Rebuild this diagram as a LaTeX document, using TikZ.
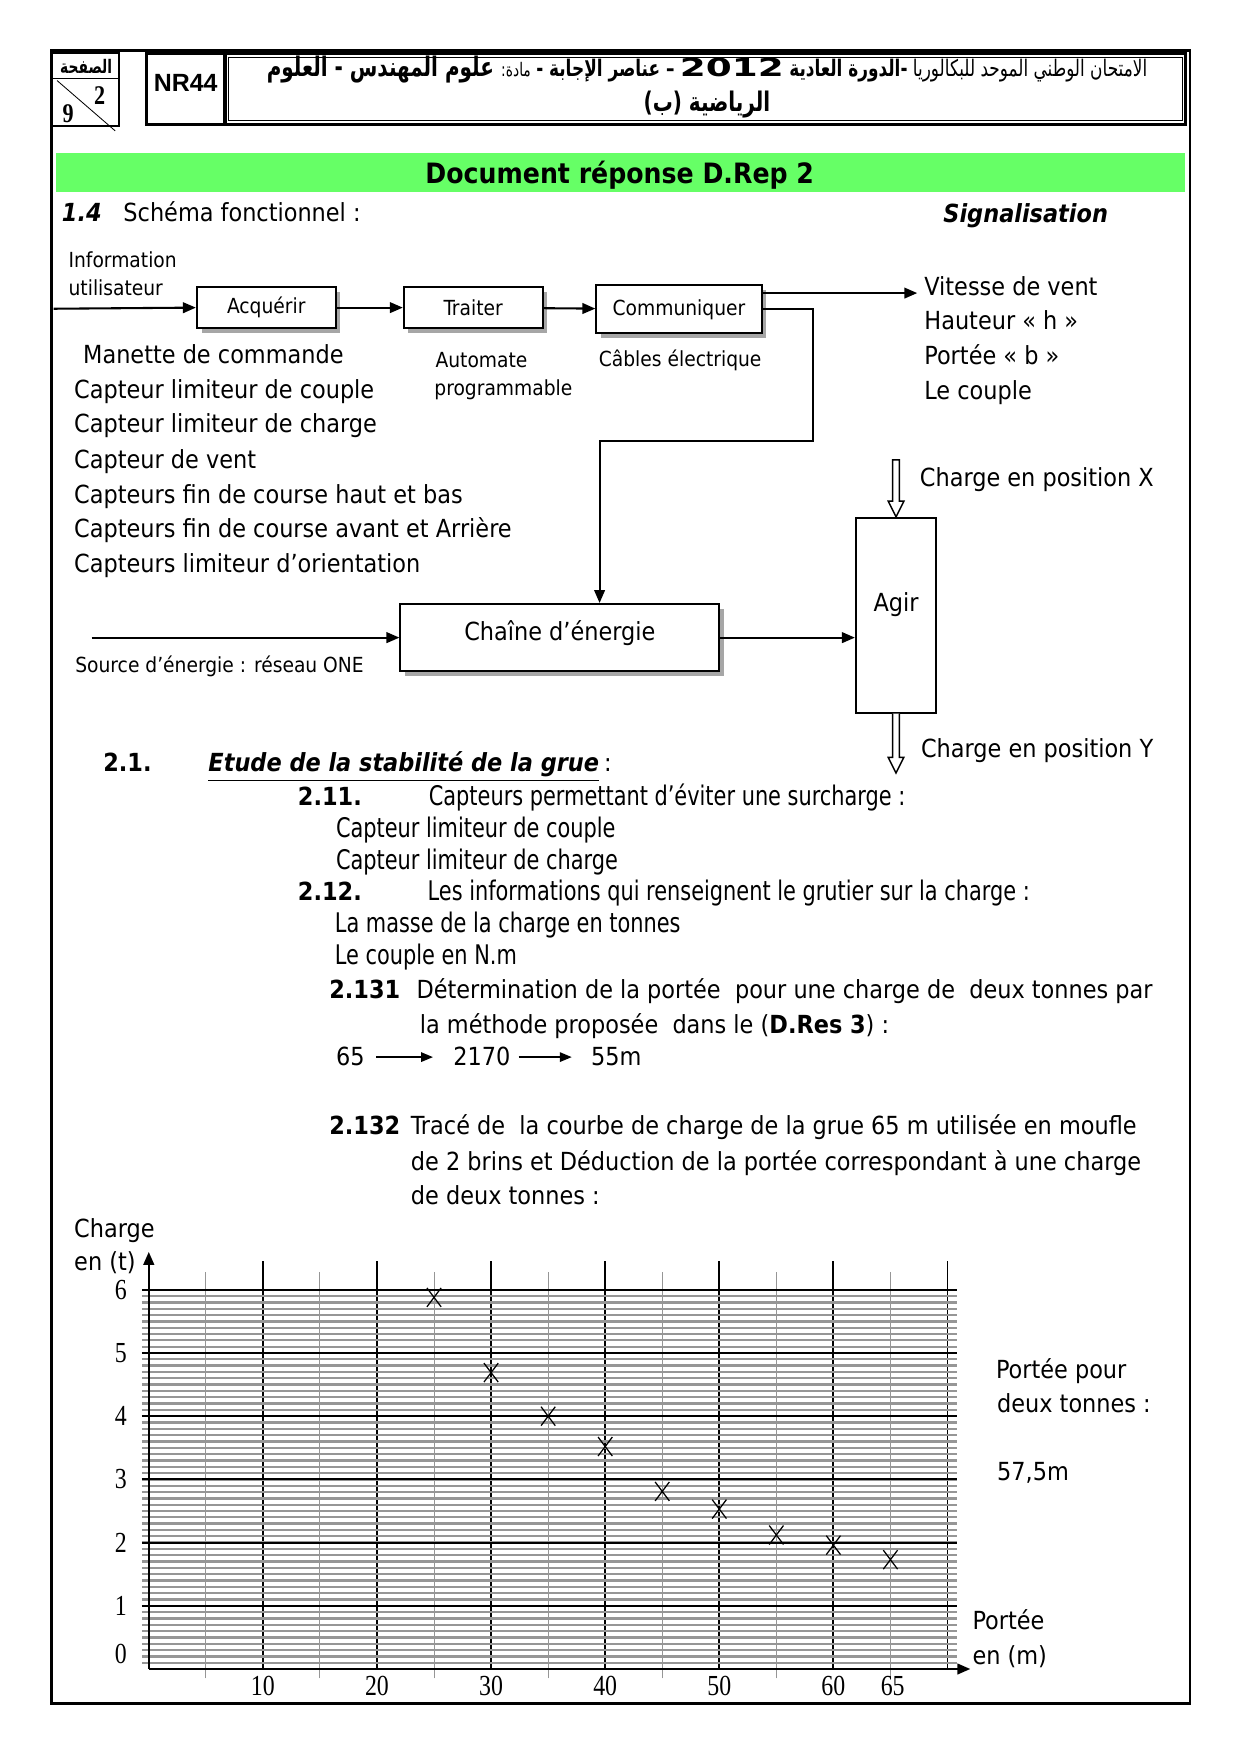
\documentclass[tikz,border=0pt]{standalone}
\usepackage{fontspec}
\setmainfont{DejaVu Sans Condensed}
\newfontfamily\etroite[FakeStretch=0.86]{DejaVu Sans Condensed}
\newfontfamily\arabe[Script=Arabic, FakeStretch=0.74]{DejaVu Sans}
\newfontfamily\chiffres[FakeStretch=0.82]{Liberation Serif}
\newfontfamily\arial{Liberation Sans}
\newfontfamily\annee[FakeStretch=1.5]{DejaVu Sans}
\TeXXeTstate=1
\definecolor{vertdoc}{RGB}{102,255,102}
\definecolor{grisgrille}{RGB}{150,150,150}
\usetikzlibrary{
    shapes.misc,
    arrows.meta,
    positioning,
    calc,
    shadows
}

\begin{document}
\begin{tikzpicture}[x=0.18935mm, y=-0.18935mm,
    cadre/.style={draw, line width=1.2pt},
    blocfct/.style={draw, line width=0.9pt, fill=white, inner sep=0pt,
        drop shadow={shadow xshift=0.8mm, shadow yshift=-0.8mm, fill=black!35, opacity=1}},
    fleche/.style={line width=1pt, -{Triangle[length=2.2mm, width=1.8mm]}},
    txt/.style={anchor=west, inner sep=0pt, text height=3.6mm, text depth=0.6mm, font=\fontsize{12}{14}\selectfont},
    petit/.style={txt, font=\fontsize{10}{12}\selectfont},
    etr/.style={txt, font=\etroite\fontsize{13}{15}\selectfont},
    gras/.style={txt, font=\bfseries\fontsize{12}{14}\selectfont},
    graduation/.style={inner sep=0pt, font=\chiffres\fontsize{14}{14}\selectfont},
    creuse/.style={draw, line width=0.7pt, fill=white}]

    \useasboundingbox (0,0) rectangle (1109,1568);

    % Cadre et en-tete
    \draw[cadre] (46,45) rectangle (1064,1523);
    \draw[line width=1pt] (46,47) rectangle (106,113);
    \draw (46,70) -- (106,70);
    \draw (51,72) -- (103,117);
    \node[font=\arabe\bfseries\fontsize{9}{10}\selectfont] (pgtxt) at (77,59) {\beginR الصفحة\endR};
    \node[font=\chiffres\bfseries\fontsize{13}{13}\selectfont] (pgnum) at (89,85) {2};
    \node[font=\chiffres\bfseries\fontsize{13}{13}\selectfont] (pgtot) at (61,102) {9};
    \draw[line width=1.6pt] (131,48) rectangle (201,111);
    \node[font=\arial\bfseries\fontsize{12}{14}\selectfont] (nr) at (166,74) {NR44};
    \draw[line width=1.6pt] (201,48) rectangle (1060,111);
    \draw[line width=0.5pt] (204,51) rectangle (1057,108);
    \node[font=\arabe\fontsize{11}{17}\selectfont, align=center] (entete) at (632,78)
        {\beginR الامتحان الوطني الموحد للبكالوريا {\bfseries -الدورة العادية} \beginL{\annee\bfseries\fontsize{12}{14}\selectfont 2012}\endL{} {\bfseries – عناصر الإجابة -} {\fontsize{9}{10}\selectfont مادة:} {\bfseries\fontsize{13}{15}\selectfont علوم المهندس - العلوم}\endR\\
         {\bfseries\fontsize{13}{15}\selectfont\beginR الرياضية (ب)\endR}};

    % Bandeau
    \fill[vertdoc] (50,137) rectangle (1059,172);
    \node[font=\bfseries\fontsize{13.5}{16}\selectfont] (titredoc) at (554,157) {Document réponse D.Rep 2};

    % Schema fonctionnel
    \node[txt, font=\bfseries\itshape\fontsize{12}{14}\selectfont] (s14) at (55,190) {1.4};
    \node[txt] (schema) at (110,190) {Schéma fonctionnel :};
    \node[txt, font=\bfseries\itshape\fontsize{12}{14}\selectfont] (signal) at (843,191) {Signalisation};

    \node[petit] (info) at (61,231) {Information};
    \node[petit] (utilis) at (61,256) {utilisateur};

    \node[blocfct, minimum width=23.5mm, minimum height=7mm, font=\fontsize{10}{12}\selectfont] (acq) at (238,275) {Acquérir};
    \node[blocfct, minimum width=23.5mm, minimum height=7mm, font=\fontsize{10}{12}\selectfont] (trait) at (423,275) {Traiter};
    \node[blocfct, minimum width=28mm, minimum height=8.1mm, font=\fontsize{10}{12}\selectfont] (comm) at (607,276.5) {Communiquer};
    \node[blocfct, minimum width=54mm, minimum height=11.4mm, text depth=2.4mm, font=\fontsize{12}{14}\selectfont] (chaine) at (500.5,570) {Chaîne d’énergie};
    \node[draw, line width=0.9pt, minimum width=13.6mm, minimum height=33mm, text depth=4.5mm, font=\fontsize{12}{14}\selectfont] (agir) at (801,550) {Agir};

    \coordinate (infoin) at (48,276);
    \coordinate (vitesse) at (820,262);
    \coordinate (retour) at (727,394);
    \coordinate (desc) at (536,394);
    \coordinate (srcin) at (82,570);

    \draw[fleche] (infoin) -- (acq.west);
    \draw[fleche] (acq) -- (trait);
    \draw[fleche] (trait) -- (comm);
    \draw[fleche] (comm.east |- vitesse) -- (vitesse);
    \draw[fleche] (comm.east) -| (retour) -- (desc) -- (desc |- chaine.north);
    \draw[fleche] (srcin) -- (chaine.west);
    \draw[fleche] (chaine.east) -- (chaine.east -| agir.west);

    % Fleches creuses
    \draw[creuse] (agir.north) -- ++(-7,-14) -- ++(4,0) -- ++(0,-37) -- ++(6,0) -- ++(0,37) -- ++(4,0) -- cycle;
    \draw[creuse] (agir.south) ++(-3,0) -- ++(0,39) -- ++(-4,0) -- ++(7,14) -- ++(7,-14) -- ++(-4,0) -- ++(0,-39);

    % Labels
    \node[txt] (vvent) at (826,256) {Vitesse de vent};
    \node[txt] (haut) at (826,287) {Hauteur « h »};
    \node[txt] (portb) at (826,318) {Portée « b »};
    \node[txt] (lecouple) at (826,349) {Le couple};
    \node[txt] (chx) at (822,427) {Charge en position X};
    \node[txt] (chy) at (823,669) {Charge en position Y};

    \node[txt] (manette) at (74,317) {Manette de commande};
    \node[txt] (clcouple) at (66,348) {Capteur limiteur de couple};
    \node[txt] (clcharge) at (66,379) {Capteur limiteur de charge};
    \node[txt] (cvent) at (66,411) {Capteur de vent};
    \node[txt] (cfhb) at (66,442) {Capteurs fin de course haut et bas};
    \node[txt] (cfaa) at (66,473) {Capteurs fin de course avant et Arrière};
    \node[txt] (clor) at (66,504) {Capteurs limiteur d’orientation};

    \node[petit] (autom) at (389,321) {Automate};
    \node[petit] (progr) at (388,346) {programmable};
    \node[petit] (cables) at (535,320) {Câbles électrique};
    \node[petit] (source) at (67,593) {Source d’énergie : réseau ONE};

    % Stabilite de la grue
    \node[gras] (s21) at (92,682) {2.1.};
    \node[txt, font=\bfseries\itshape\fontsize{12}{14}\selectfont] (etude) at (186,682) {\underline{Etude de la stabilité de la grue}};
    \node[txt] (etudep) at (etude.east) {\,:};

    \node[gras] (s211) at (266,712) {2.11.};
    \node[etr] (surch) at (383,712) {Capteurs permettant d’éviter une surcharge :};
    \node[etr] (r1) at (300,741) {Capteur limiteur de couple};
    \node[etr] (r2) at (300,769) {Capteur limiteur de charge};
    \node[gras] (s212) at (266,797) {2.12.};
    \node[etr] (infos) at (382,797) {Les informations qui renseignent le grutier sur la charge :};
    \node[etr] (r3) at (299,826) {La masse de la charge en tonnes};
    \node[etr] (r4) at (299,854) {Le couple en N.m};

    \node[gras] (s2131) at (294,885) {2.131};
    \node[txt] (det1) at (372,885) {Détermination de la portée\ \ pour une charge de\ \ deux tonnes par};
    \node[txt] (det2) at (375,916) {la méthode proposée\ \ dans le ({\bfseries D.Res 3}) :};
    \node[txt] (v65) at (300,945) {65};
    \node[txt] (v2170) at (405,945) {2170};
    \node[txt] (v55) at (528,945) {55m};
    \draw[line width=0.7pt, -{Triangle[length=2mm, width=1.6mm]}, shorten <=1.9mm, shorten >=3.4mm] (v65) -- (v2170);
    \draw[line width=0.7pt, -{Triangle[length=2mm, width=1.6mm]}, shorten <=1.3mm, shorten >=3.2mm] (v2170) -- (v55);

    \node[gras] (s2132) at (294,1006) {2.132};
    \node[txt] (trace1) at (367,1006) {Tracé de\ \ la courbe de charge de la grue 65 m utilisée en moufle};
    \node[txt] (trace2) at (367,1038) {de 2 brins et Déduction de la portée correspondant à une charge};
    \node[txt] (trace3) at (367,1069) {de deux tonnes :};

    % Courbe de charge
    \node[txt] (ycharge) at (66,1098) {Charge};
    \node[txt] (yunit) at (66,1128) {en (t)};
    \node[txt] (xport) at (869,1449) {Portée};
    \node[txt] (xunit) at (869,1480) {en (m)};
    \node[txt] (rep1) at (890,1224) {Portée pour};
    \node[txt] (rep2) at (891,1255) {deux tonnes :};
    \node[txt] (rep3) at (891,1316) {57,5m};

    \begin{scope}[shift={(133,1492)}, x=1.9314mm, y=10.698mm]
        \foreach \k in {5,15,...,65}
            \draw[grisgrille, line width=0.5pt] (\k,-0.15) -- (\k,6.28);
        \foreach \k in {10,20,...,70}
            \draw[line width=0.9pt] (\k,0) -- (\k,6.46);
        \foreach \j in {1,...,59}
            \draw[grisgrille, line width=1.1pt] (-0.6,\j/10) -- (70.8,\j/10);
        \foreach \j in {1,...,6}
            \draw[line width=0.9pt] (-0.6,\j) -- (70.8,\j);
        \draw[line width=1.1pt, -{Triangle[length=2.2mm, width=1.8mm]}] (0,0) -- (0,6.6);
        \draw[line width=1.1pt, -{Triangle[length=2.2mm, width=1.8mm]}] (0,0) -- (72,0);

        \foreach \k in {1,...,6}
            \node[graduation] (yl\k) at (-2.45,\k) {\k};
        \node[graduation] (yl0) at (-2.45,0.23) {0};
        \foreach \k in {10,20,...,60}
            \node[graduation] (xl\k) at (\k,-0.27) {\k};
        \node[graduation] (xl65) at (65.2,-0.27) {65};

        % Points releves
        \foreach \px/\py in {25/5.88, 30/4.69, 35/4.0, 40/3.52, 45/2.81, 50/2.53, 55/2.12, 60/1.96, 65/1.73}
            \node[draw, cross out, line width=0.6pt, inner sep=0pt, minimum width=2.2mm, minimum height=3mm] (pt\px) at (\px,\py) {};
    \end{scope}
\end{tikzpicture}
\end{document}
